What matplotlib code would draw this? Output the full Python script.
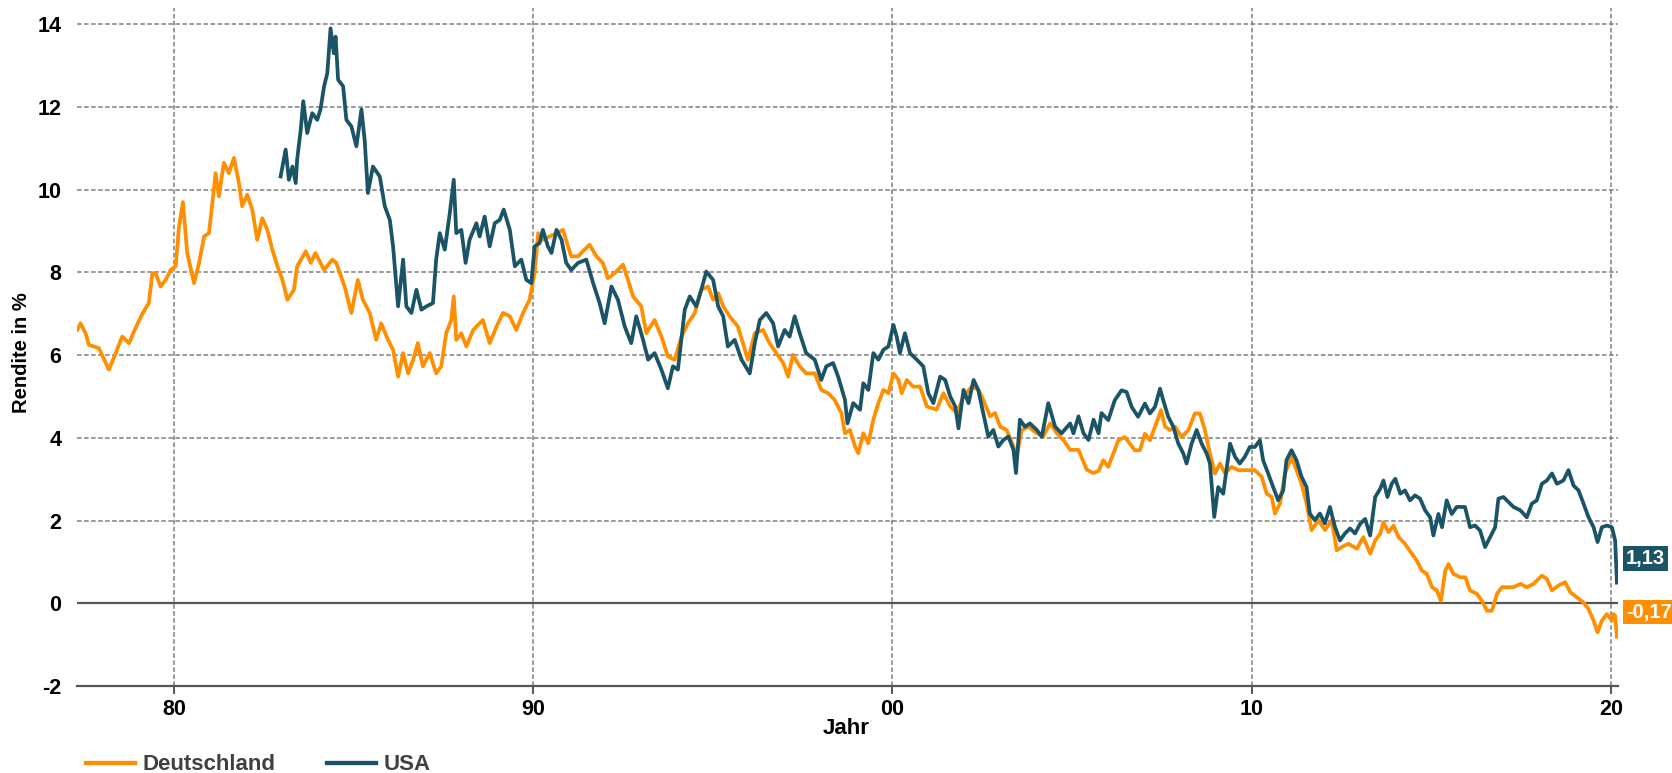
import matplotlib
matplotlib.use("Agg")
import matplotlib.pyplot as plt
from matplotlib.lines import Line2D
from matplotlib.transforms import blended_transform_factory

# ---------------- data ----------------
de_years = [1977.31, 1977.40, 1977.54, 1977.63, 1977.91, 1978.19, 1978.38, 1978.56, 1978.75, 1978.93,
            1979.12, 1979.30, 1979.40, 1979.49, 1979.63, 1979.77, 1979.91, 1980.05, 1980.14, 1980.25,
            1980.37, 1980.56, 1980.70, 1980.84, 1980.975, 1981.07, 1981.16, 1981.25, 1981.39, 1981.53,
            1981.67, 1981.81, 1981.90, 1982.04, 1982.18, 1982.32, 1982.46, 1982.60, 1982.74, 1982.88,
            1983.02, 1983.16, 1983.34, 1983.43, 1983.67, 1983.81, 1983.94, 1984.18, 1984.41, 1984.52,
            1984.75, 1984.94, 1985.12, 1985.26, 1985.45, 1985.63, 1985.77, 1985.96, 1986.10, 1986.24,
            1986.38, 1986.52, 1986.66, 1986.79, 1986.93, 1987.12, 1987.30, 1987.44, 1987.58, 1987.72,
            1987.79, 1987.86, 1988.00, 1988.14, 1988.33, 1988.60, 1988.79, 1988.98, 1989.16, 1989.35,
            1989.53, 1989.72, 1989.90, 1990.04, 1990.14, 1990.27, 1990.46, 1990.65, 1990.83, 1990.97,
            1991.06, 1991.25, 1991.43, 1991.57, 1991.76, 1991.94, 1992.08, 1992.27, 1992.50, 1992.64,
            1992.78, 1993.01, 1993.15, 1993.38, 1993.57, 1993.75, 1993.94, 1994.13, 1994.31, 1994.50,
            1994.68, 1994.87, 1995.01, 1995.15, 1995.29, 1995.47, 1995.70, 1995.98, 1996.17, 1996.40,
            1996.58, 1996.77, 1996.96, 1997.10, 1997.23, 1997.42, 1997.60, 1997.84, 1998.02, 1998.21,
            1998.39, 1998.58, 1998.68, 1998.82, 1998.96, 1999.05, 1999.19, 1999.33, 1999.47, 1999.61,
            1999.75, 1999.89, 2000.03, 2000.17, 2000.26, 2000.40, 2000.58, 2000.77, 2000.96, 2001.23,
            2001.42, 2001.61, 2001.79, 2001.98, 2002.21, 2002.40, 2002.53, 2002.72, 2002.86, 2003.00,
            2003.18, 2003.37, 2003.46, 2003.60, 2003.79, 2004.02, 2004.20, 2004.39, 2004.58, 2004.76,
            2004.95, 2005.18, 2005.41, 2005.60, 2005.74, 2005.87, 2006.01, 2006.15, 2006.29, 2006.47,
            2006.61, 2006.75, 2006.89, 2007.03, 2007.17, 2007.31, 2007.48, 2007.59, 2007.73, 2007.87,
            2008.05, 2008.24, 2008.42, 2008.56, 2008.70, 2008.84, 2008.98, 2009.12, 2009.26, 2009.44,
            2009.63, 2009.81, 2010.09, 2010.28, 2010.42, 2010.56, 2010.65, 2010.79, 2010.93, 2011.11,
            2011.25, 2011.39, 2011.53, 2011.67, 2011.86, 2012.04, 2012.23, 2012.37, 2012.51, 2012.69,
            2012.93, 2013.11, 2013.30, 2013.44, 2013.58, 2013.67, 2013.81, 2013.95, 2014.09, 2014.27,
            2014.46, 2014.60, 2014.74, 2014.88, 2015.02, 2015.16, 2015.27, 2015.39, 2015.48, 2015.62,
            2015.81, 2015.95, 2016.08, 2016.27, 2016.41, 2016.55, 2016.69, 2016.83, 2016.97, 2017.10,
            2017.29, 2017.48, 2017.66, 2017.85, 2018.08, 2018.22, 2018.36, 2018.54, 2018.73, 2018.87,
            2019.05, 2019.24, 2019.38, 2019.52, 2019.63, 2019.75, 2019.89, 2020.03, 2020.07, 2020.12,
            2020.17]
de_values = [6.61, 6.77, 6.53, 6.25, 6.17, 5.65, 6.05, 6.45, 6.29, 6.65,
             7.00, 7.26, 7.98, 7.98, 7.66, 7.82, 8.06, 8.15, 9.10, 9.70,
             8.47, 7.74, 8.23, 8.87, 8.95, 9.68, 10.40, 9.84, 10.65, 10.40,
             10.77, 10.16, 9.60, 9.88, 9.52, 8.79, 9.31, 9.03, 8.55, 8.15,
             7.82, 7.34, 7.58, 8.15, 8.51, 8.23, 8.47, 8.06, 8.31, 8.23,
             7.66, 7.02, 7.82, 7.34, 7.02, 6.37, 6.77, 6.37, 6.13, 5.48,
             6.05, 5.56, 5.89, 6.29, 5.73, 6.05, 5.56, 5.73, 6.53, 6.85,
             7.42, 6.37, 6.53, 6.21, 6.61, 6.85, 6.29, 6.69, 7.02, 6.94,
             6.61, 7.02, 7.34, 7.98, 8.95, 8.79, 8.87, 8.95, 9.03, 8.63,
             8.39, 8.39, 8.55, 8.67, 8.39, 8.23, 7.86, 7.98, 8.19, 7.82,
             7.42, 7.18, 6.53, 6.85, 6.45, 5.97, 5.89, 6.45, 6.77, 7.02,
             7.58, 7.66, 7.34, 7.50, 7.18, 6.94, 6.69, 5.89, 6.53, 6.61,
             6.29, 6.05, 5.81, 5.48, 6.01, 5.73, 5.56, 5.56, 5.16, 5.08,
             4.92, 4.60, 4.11, 4.19, 3.79, 3.63, 4.11, 3.87, 4.44, 4.84,
             5.16, 5.08, 5.56, 5.40, 5.08, 5.40, 5.24, 5.24, 4.76, 4.68,
             5.08, 4.76, 4.60, 5.00, 5.24, 5.16, 4.92, 4.52, 4.60, 4.27,
             4.19, 3.79, 3.55, 4.19, 4.27, 4.11, 4.03, 4.35, 4.11, 3.95,
             3.71, 3.71, 3.23, 3.15, 3.20, 3.46, 3.30, 3.62, 3.94, 4.02,
             3.86, 3.70, 3.70, 4.10, 3.94, 4.27, 4.67, 4.27, 4.19, 4.27,
             4.02, 4.19, 4.59, 4.59, 4.19, 3.62, 3.14, 3.38, 3.14, 3.30,
             3.22, 3.22, 3.22, 3.06, 2.65, 2.57, 2.17, 2.41, 3.14, 3.54,
             3.22, 2.89, 2.41, 1.77, 2.01, 1.77, 2.01, 1.28, 1.36, 1.44,
             1.32, 1.60, 1.20, 1.52, 1.68, 1.96, 1.72, 1.88, 1.60, 1.44,
             1.20, 1.03, 0.79, 0.71, 0.39, 0.31, 0.06, 0.79, 0.95, 0.71,
             0.63, 0.63, 0.31, 0.23, 0.06, -0.18, -0.18, 0.23, 0.39, 0.39,
             0.39, 0.47, 0.39, 0.47, 0.67, 0.59, 0.31, 0.43, 0.51, 0.27,
             0.15, 0.02, -0.14, -0.42, -0.70, -0.42, -0.26, -0.42, -0.26, -0.30,
             -0.81]

us_years = [1982.97, 1983.11, 1983.20, 1983.30, 1983.39, 1983.43, 1983.53, 1983.60, 1983.71, 1983.85,
            1983.99, 1984.08, 1984.18, 1984.27, 1984.36, 1984.45, 1984.50, 1984.57, 1984.71, 1984.80,
            1984.94, 1985.08, 1985.22, 1985.31, 1985.40, 1985.54, 1985.73, 1985.87, 1986.01, 1986.10,
            1986.24, 1986.38, 1986.47, 1986.61, 1986.75, 1986.89, 1987.03, 1987.21, 1987.30, 1987.40,
            1987.54, 1987.68, 1987.79, 1987.86, 1988.00, 1988.12, 1988.23, 1988.42, 1988.51, 1988.65,
            1988.79, 1988.93, 1989.07, 1989.18, 1989.35, 1989.49, 1989.67, 1989.81, 1989.95, 1990.04,
            1990.18, 1990.27, 1990.41, 1990.51, 1990.65, 1990.79, 1990.92, 1991.06, 1991.25, 1991.48,
            1991.67, 1991.85, 1991.99, 1992.18, 1992.36, 1992.55, 1992.73, 1992.87, 1993.06, 1993.20,
            1993.38, 1993.57, 1993.75, 1993.89, 1994.03, 1994.22, 1994.36, 1994.54, 1994.68, 1994.82,
            1995.01, 1995.15, 1995.29, 1995.42, 1995.61, 1995.80, 1996.03, 1996.17, 1996.31, 1996.49,
            1996.68, 1996.82, 1997.00, 1997.14, 1997.28, 1997.42, 1997.60, 1997.84, 1998.02, 1998.16,
            1998.35, 1998.49, 1998.68, 1998.75, 1998.91, 1999.10, 1999.19, 1999.33, 1999.47, 1999.61,
            1999.75, 1999.89, 2000.03, 2000.12, 2000.21, 2000.35, 2000.49, 2000.68, 2000.86, 2001.00,
            2001.14, 2001.33, 2001.47, 2001.61, 2001.75, 2001.84, 2001.98, 2002.12, 2002.26, 2002.39,
            2002.53, 2002.67, 2002.81, 2002.95, 2003.09, 2003.23, 2003.37, 2003.44, 2003.55, 2003.69,
            2003.83, 2004.02, 2004.16, 2004.34, 2004.53, 2004.71, 2004.95, 2005.04, 2005.18, 2005.32,
            2005.46, 2005.60, 2005.74, 2005.82, 2006.01, 2006.19, 2006.38, 2006.52, 2006.66, 2006.84,
            2007.03, 2007.17, 2007.31, 2007.45, 2007.54, 2007.68, 2007.82, 2007.96, 2008.10, 2008.19,
            2008.33, 2008.47, 2008.61, 2008.75, 2008.84, 2008.96, 2009.07, 2009.21, 2009.30, 2009.40,
            2009.54, 2009.67, 2009.81, 2009.95, 2010.09, 2010.23, 2010.32, 2010.46, 2010.60, 2010.74,
            2010.88, 2010.97, 2011.11, 2011.25, 2011.39, 2011.53, 2011.62, 2011.76, 2011.90, 2012.04,
            2012.18, 2012.32, 2012.46, 2012.60, 2012.74, 2012.88, 2013.02, 2013.16, 2013.30, 2013.44,
            2013.58, 2013.67, 2013.78, 2013.90, 2014.00, 2014.14, 2014.27, 2014.41, 2014.55, 2014.69,
            2014.83, 2014.97, 2015.06, 2015.20, 2015.30, 2015.43, 2015.57, 2015.71, 2015.94, 2016.08,
            2016.22, 2016.36, 2016.50, 2016.64, 2016.78, 2016.87, 2017.01, 2017.15, 2017.29, 2017.48,
            2017.66, 2017.80, 2017.94, 2018.08, 2018.22, 2018.36, 2018.50, 2018.68, 2018.82, 2018.96,
            2019.10, 2019.24, 2019.38, 2019.52, 2019.63, 2019.75, 2019.89, 2020.03, 2020.12, 2020.17]
us_values = [10.32, 10.97, 10.24, 10.56, 10.16, 10.73, 11.45, 12.14, 11.37, 11.85,
             11.69, 11.94, 12.50, 12.82, 13.90, 13.30, 13.70, 12.66, 12.50, 11.69,
             11.53, 11.05, 11.94, 11.20, 9.92, 10.56, 10.32, 9.60, 9.27, 8.63,
             7.18, 8.31, 7.18, 7.02, 7.58, 7.10, 7.18, 7.26, 8.31, 8.95,
             8.55, 9.44, 10.24, 8.95, 9.03, 8.23, 8.79, 9.19, 8.87, 9.35,
             8.63, 9.19, 9.27, 9.52, 9.03, 8.15, 8.31, 7.82, 7.74, 8.63,
             8.71, 9.03, 8.63, 8.47, 9.03, 8.79, 8.23, 8.06, 8.23, 8.31,
             7.74, 7.26, 6.77, 7.66, 7.34, 6.69, 6.29, 6.94, 6.37, 5.89,
             6.05, 5.65, 5.20, 5.73, 5.65, 7.10, 7.42, 7.18, 7.58, 8.02,
             7.82, 7.18, 6.94, 6.21, 6.37, 5.89, 5.56, 6.29, 6.85, 7.02,
             6.77, 6.21, 6.61, 6.45, 6.94, 6.53, 6.05, 5.89, 5.40, 5.73,
             5.81, 5.48, 4.92, 4.35, 4.84, 4.68, 5.32, 5.16, 6.05, 5.89,
             6.13, 6.21, 6.73, 6.45, 6.05, 6.53, 6.05, 5.89, 5.73, 5.08,
             4.84, 5.48, 5.40, 5.00, 4.76, 4.23, 5.16, 4.84, 5.40, 5.16,
             4.60, 4.03, 4.19, 3.79, 3.95, 4.03, 3.71, 3.15, 4.44, 4.27,
             4.35, 4.19, 4.03, 4.84, 4.27, 4.11, 4.35, 4.11, 4.52, 4.11,
             3.95, 4.44, 4.11, 4.60, 4.43, 4.91, 5.15, 5.11, 4.75, 4.51,
             4.83, 4.59, 4.75, 5.19, 4.91, 4.51, 4.27, 3.86, 3.62, 3.38,
             3.86, 4.19, 3.86, 3.62, 3.38, 2.09, 2.81, 2.65, 3.22, 3.86,
             3.54, 3.38, 3.54, 3.78, 3.78, 3.94, 3.46, 3.14, 2.81, 2.49,
             2.73, 3.46, 3.70, 3.46, 3.06, 2.81, 2.17, 2.01, 2.17, 1.93,
             2.33, 1.85, 1.52, 1.69, 1.81, 1.69, 1.92, 2.04, 1.64, 2.57,
             2.77, 2.97, 2.57, 2.89, 3.01, 2.65, 2.73, 2.49, 2.61, 2.53,
             2.25, 2.08, 1.64, 2.16, 1.84, 2.49, 2.16, 2.33, 2.33, 1.84,
             1.88, 1.76, 1.36, 1.60, 1.84, 2.53, 2.57, 2.45, 2.33, 2.25,
             2.08, 2.41, 2.49, 2.89, 2.97, 3.14, 2.89, 2.97, 3.22, 2.85,
             2.73, 2.41, 2.08, 1.84, 1.48, 1.84, 1.88, 1.84, 1.52, 0.50]

series_names = ["Deutschland", "USA"]
last_labels = ["-0,17", "1,13"]
last_values = [-0.17, 1.13]
x_ticks = [1980, 1990, 2000, 2010, 2020]
x_ticklabels = ["80", "90", "00", "10", "20"]
y_ticks = [-2, 0, 2, 4, 6, 8, 10, 12, 14]

# ---------------- style ----------------
ORANGE = "#FF8F00"
TEAL = "#1B5466"
GRID = "#7F7F7F"
AXIS = "#555555"
FONT = ["Liberation Sans", "DejaVu Sans"]
plt.rcParams["font.family"] = FONT
plt.rcParams["font.weight"] = "bold"

fig = plt.figure(figsize=(16.72, 7.73), dpi=100)
ax = fig.add_axes([0.0458, 0.1125, 0.9217, 0.8775])

ax.plot(de_years, de_values, color=ORANGE, lw=2.7, solid_joinstyle="round", zorder=3)
ax.plot(us_years, us_values, color=TEAL, lw=2.7, solid_joinstyle="round", zorder=4)

ax.set_xlim(1977.29, 2020.19)
ax.set_ylim(-2, 14.4)
ax.set_xticks(x_ticks)
ax.set_xticklabels(x_ticklabels)
ax.set_yticks(y_ticks)
ax.set_yticklabels([str(v) for v in y_ticks])

ax.grid(True, color=GRID, linestyle=(0, (3.0, 1.6)), linewidth=1.1, zorder=1)
ax.axhline(0, color=AXIS, lw=1.6, zorder=2)

for s in ["top", "right", "left"]:
    ax.spines[s].set_visible(False)
ax.spines["bottom"].set_color(AXIS)
ax.spines["bottom"].set_linewidth(1.6)
ax.spines["bottom"].set_zorder(2)

ax.tick_params(axis="x", length=6, width=1.4, color=AXIS, pad=3.5,
               labelsize=15.5, labelcolor="black")
ax.tick_params(axis="y", length=0, pad=11, labelsize=15.5, labelcolor="black")
for lab in ax.get_xticklabels() + ax.get_yticklabels():
    lab.set_fontweight("bold")

# value labels at the right edge
tr = blended_transform_factory(ax.transAxes, ax.transData)
for txt, val, col in zip(last_labels, last_values, [ORANGE, TEAL]):
    ax.text(1.0055, val - 0.04, txt, transform=tr, ha="left", va="center",
            fontsize=14.5, fontweight="bold", color="white", clip_on=False,
            bbox=dict(boxstyle="square,pad=0.14", fc=col, ec="none"), zorder=6)

# axis titles
fig.text(22 / 1672, 1 - 353 / 773, "Rendite in %", rotation=90, ha="center", va="center",
         fontsize=14.5, fontweight="bold", color="black")
fig.text(846 / 1672, 1 - 728 / 773, "Jahr", ha="center", va="center",
         fontsize=16, fontweight="bold", color="black")

# legend
handles = [Line2D([], [], color=ORANGE, lw=3.1), Line2D([], [], color=TEAL, lw=3.1)]
leg = fig.legend(handles, series_names, loc="center left",
                 bbox_to_anchor=(86 / 1672, 1 - 765 / 773), ncol=2, frameon=False,
                 borderpad=0, borderaxespad=0, handlelength=2.2, handletextpad=0.36,
                 columnspacing=2.3, prop={"family": FONT, "weight": "bold", "size": 16})
for t in leg.get_texts():
    t.set_color("#404040")

fig.savefig("out.png", dpi=100)
